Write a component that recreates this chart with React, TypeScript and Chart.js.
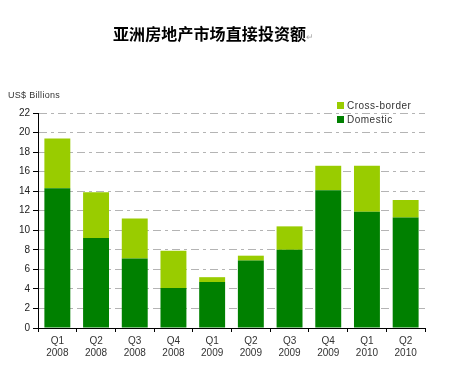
import React, { useEffect, useRef } from "react";
import { Chart, registerables } from "chart.js";
Chart.register(...registerables);

const quarters = ["Q1", "Q2", "Q3", "Q4", "Q1", "Q2", "Q3", "Q4", "Q1", "Q2"];
const years = ["2008", "2008", "2008", "2008", "2009", "2009", "2009", "2009", "2010", "2010"];
const domestic = [14.3, 9.2, 7.1, 4.1, 4.7, 6.9, 8.0, 14.1, 11.9, 11.3];
const crossBorder = [5.1, 4.7, 4.1, 3.8, 0.5, 0.5, 2.4, 2.5, 4.7, 1.8];
const yMin = 0;
const yMax = 22;
const yStep = 2;
const titleText = "亚洲房地产市场直接投资额";
const yAxisLabel = "US$ Billions";
const seriesNames = ["Domestic", "Cross-border"];
const seriesColors = ["#008000", "#99cc00"];

export default function App() {
  const ref = useRef<HTMLCanvasElement | null>(null);

  useEffect(() => {
    if (!ref.current) return;
    const labels = quarters.map((q, i) => [q, years[i]]);
    const chart = new Chart(ref.current, {
      type: "bar",
      data: {
        labels,
        datasets: [
          {
            label: seriesNames[0],
            data: domestic,
            backgroundColor: seriesColors[0],
            barPercentage: 0.67,
            categoryPercentage: 1,
          },
          {
            label: seriesNames[1],
            data: crossBorder,
            backgroundColor: seriesColors[1],
            barPercentage: 0.67,
            categoryPercentage: 1,
          },
        ],
      },
      options: {
        responsive: false,
        animation: false,
        layout: { padding: { top: 113, right: 33, left: 0, bottom: 0 } },
        plugins: {
          legend: { display: false },
          title: { display: false },
          tooltip: { enabled: false },
        },
        scales: {
          x: {
            stacked: true,
            offset: true,
            grid: {
              display: true,
              drawOnChartArea: false,
              drawTicks: true,
              tickLength: 4,
              tickColor: "#000",
              offset: true,
            },
            border: { display: true, color: "#000", width: 1 },
            ticks: {
              font: { size: 10, family: "Arial, 'Liberation Sans'" },
              color: "#333",
              padding: 3,
              maxRotation: 0,
              autoSkip: false,
            },
            afterFit: (s: any) => {
              s.height = 38;
            },
          },
          y: {
            stacked: true,
            min: yMin,
            max: yMax,
            ticks: {
              stepSize: yStep,
              font: { size: 10, family: "Arial, 'Liberation Sans'" },
              color: "#222",
              padding: 3,
            },
            grid: {
              color: (c: any) => (c.tick && c.tick.value === 0 ? "rgba(0,0,0,0)" : "#b4b4b4"),
              tickColor: "#000",
              tickLength: 5,
              drawTicks: true,
            },
            border: { display: true, color: "#000", width: 1, dash: [8, 4, 3, 4] },
            afterFit: (s: any) => {
              s.width = 38;
            },
          },
        },
      },
    });
    return () => chart.destroy();
  }, []);

  const legendItems = [
    { name: seriesNames[1], color: seriesColors[1], y: 105 },
    { name: seriesNames[0], color: seriesColors[0], y: 119 },
  ];

  return (
    <div style={{ position: "absolute", left: 0, top: 0, width: 458, height: 366, background: "#fff" }}>
      <canvas ref={ref} width={458} height={366} style={{ position: "absolute", left: 0, top: 0 }} />
      <div
        style={{
          position: "absolute",
          left: 113,
          top: 21,
          height: 24,
          lineHeight: "24px",
          fontFamily: "'Noto Sans CJK SC'",
          fontWeight: 700,
          fontSize: 16,
          letterSpacing: 0.1,
          color: "#000",
          whiteSpace: "nowrap",
        }}
      >
        {titleText}
        <span style={{ fontSize: 9, color: "#aaa", letterSpacing: 0, fontWeight: 400 }}>↵</span>
      </div>
      <div
        style={{
          position: "absolute",
          left: 8,
          top: 89,
          fontFamily: "Arial, 'Liberation Sans'",
          fontSize: 9,
          lineHeight: "12px",
          letterSpacing: 0.3,
          color: "#333",
          whiteSpace: "nowrap",
        }}
      >
        {yAxisLabel}
      </div>
      {legendItems.map((it) => (
        <div
          key={it.name}
          style={{
            position: "absolute",
            left: 337,
            top: it.y - 6,
            height: 12,
            display: "flex",
            alignItems: "center",
            fontFamily: "Arial, 'Liberation Sans'",
            fontSize: 10,
            letterSpacing: 0.5,
            color: "#333",
            whiteSpace: "nowrap",
          }}
        >
          <span style={{ display: "inline-block", width: 7, height: 7, background: it.color, marginRight: 3 }} />
          {it.name}
        </div>
      ))}
    </div>
  );
}
